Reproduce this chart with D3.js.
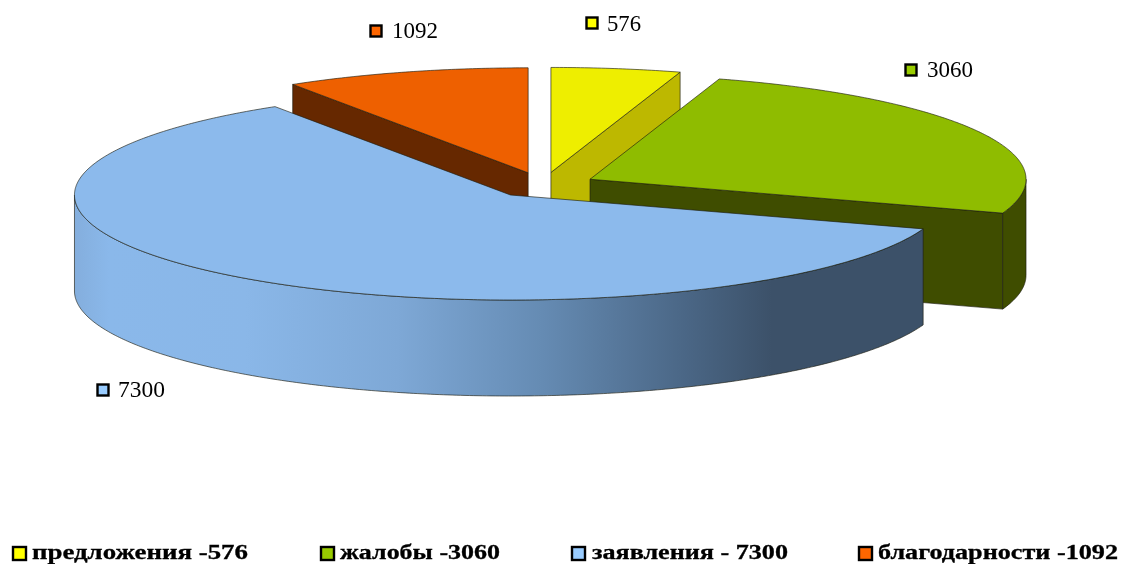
<!DOCTYPE html>
<html>
<head>
<meta charset="utf-8">
<script src="https://cdn.jsdelivr.net/npm/d3@7"></script>
<style>
  html, body { margin: 0; padding: 0; background: #fff; }
  svg { display: block; filter: blur(0.35px); }
</style>
</head>
<body>
<svg id="chart" width="1122" height="564"></svg>
<script>
// chart values
var categories = ['предложения', 'жалобы', 'заявления', 'благодарности'];
var values = [576, 3060, 7300, 1092];
var valueLabels = ['576', '3060', '7300', '1092'];
var legendLabels = ['предложения -576', 'жалобы -3060', 'заявления - 7300', 'благодарности -1092'];

// styles and layout
var topColors = ['#eeee00', '#8fbc00', '#8cbaec', '#ee6000'];
var wallColors = ['#bdb800', '#3f4d00', '#8ab8ea', '#662800'];
var swatchColors = ['#ffff00', '#99cc00', '#99ccff', '#ff6600'];
var labelPos = [[587, 18, 607, 31, 34], [906, 65, 927, 77, 46], [98, 385, 118, 397, 47], [371, 26, 392, 38, 46]];
var legendPos = [[13, 32, 216], [321, 340, 160], [572, 592, 196], [859, 878, 240]];

var cx = 543, cy = 185;      // pie centre before the slices are pulled out
var rx = 436, ry = 105;      // tilted pie is an ellipse
var depth = 96;
var explode = 0.121;

var svg = d3.select('#chart');

var defs = svg.append('defs');
var grad = defs.append('linearGradient')
  .attr('id', 'blueWall')
  .attr('gradientUnits', 'userSpaceOnUse')
  .attr('x1', 75).attr('x2', 925).attr('y1', 0).attr('y2', 0);
[[0, '#84aedd'], [0.04, '#8ab8ea'], [0.2, '#8ab7e8'], [0.38, '#7ea8d6'],
 [0.55, '#658bb3'], [0.72, '#4a6685'], [0.82, '#3c5169'], [1, '#3c5169']].forEach(function (s) {
  grad.append('stop').attr('offset', s[0]).attr('stop-color', s[1]);
});

var pie = d3.pie().sort(null).value(function (d) { return d; });
var slices = pie(values);

// angle runs clockwise from the top, r is in units of the pie radius
function project(slice, angle, r) {
  var mid = (slice.startAngle + slice.endAngle) / 2;
  return [
    cx + rx * (explode * Math.sin(mid) + r * Math.sin(angle)),
    cy - ry * (explode * Math.cos(mid) + r * Math.cos(angle))
  ];
}

function arcPoints(slice, a0, a1) {
  var n = Math.max(2, Math.ceil((a1 - a0) / 0.01));
  return d3.range(n + 1).map(function (i) {
    return project(slice, a0 + (a1 - a0) * i / n, 1);
  });
}

var topLine = d3.line();
var wallArea = d3.area()
  .x(function (d) { return d[0]; })
  .y0(function (d) { return d[1]; })
  .y1(function (d) { return d[1] + depth; });

// slices drawn back to front, the big blue one last
var order = [0, 3, 1, 2];

var pieG = svg.append('g')
  .attr('stroke', '#1c1c10')
  .attr('stroke-width', 0.8)
  .attr('stroke-opacity', 0.8)
  .attr('stroke-linejoin', 'round');

order.forEach(function (idx) {
  var s = slices[idx];
  var tip = project(s, 0, 0);
  var wallFill = idx === 2 ? 'url(#blueWall)' : wallColors[idx];

  // flat cut faces that look towards the viewer
  if (Math.sin(s.endAngle) > 0.001) {
    pieG.append('path')
      .attr('d', wallArea([tip, project(s, s.endAngle, 1)]))
      .attr('fill', wallFill);
  }
  if (Math.sin(s.startAngle) < -0.001) {
    pieG.append('path')
      .attr('d', wallArea([tip, project(s, s.startAngle, 1)]))
      .attr('fill', wallFill);
  }

  // outer rim, only the front half of the ellipse shows
  var a0 = Math.max(s.startAngle, Math.PI / 2);
  var a1 = Math.min(s.endAngle, Math.PI * 1.5);
  if (a1 > a0) {
    pieG.append('path')
      .attr('d', wallArea(arcPoints(s, a0, a1)))
      .attr('fill', wallFill);
  }

  pieG.append('path')
    .attr('d', topLine([tip].concat(arcPoints(s, s.startAngle, s.endAngle))) + 'Z')
    .attr('fill', topColors[idx]);
});

// value labels with small keys
var labels = svg.append('g').selectAll('g')
  .data(categories)
  .enter().append('g');

labels.append('rect')
  .attr('x', function (d, i) { return labelPos[i][0] - 0.5; })
  .attr('y', function (d, i) { return labelPos[i][1] - 0.5; })
  .attr('width', 11)
  .attr('height', 11)
  .attr('fill', function (d, i) { return swatchColors[i]; })
  .attr('stroke', '#000')
  .attr('stroke-width', 2.4);

labels.append('text')
  .attr('x', function (d, i) { return labelPos[i][2]; })
  .attr('y', function (d, i) { return labelPos[i][3]; })
  .attr('font-family', 'Liberation Serif')
  .attr('font-size', 22.5)
  .attr('fill', '#000')
  .attr('textLength', function (d, i) { return labelPos[i][4]; })
  .attr('lengthAdjust', 'spacingAndGlyphs')
  .text(function (d, i) { return valueLabels[i]; });

// legend along the bottom
var legend = svg.append('g').selectAll('g')
  .data(categories)
  .enter().append('g');

legend.append('rect')
  .attr('x', function (d, i) { return legendPos[i][0]; })
  .attr('y', 547)
  .attr('width', 13)
  .attr('height', 13)
  .attr('fill', function (d, i) { return swatchColors[i]; })
  .attr('stroke', '#000')
  .attr('stroke-width', 2.4);

legend.append('text')
  .attr('x', function (d, i) { return legendPos[i][1]; })
  .attr('y', 559)
  .attr('font-family', 'Liberation Serif')
  .attr('font-weight', 'bold')
  .attr('font-size', 20)
  .attr('fill', '#000')
  .attr('stroke', '#000')
  .attr('stroke-width', 0.3)
  .attr('textLength', function (d, i) { return legendPos[i][2]; })
  .attr('lengthAdjust', 'spacingAndGlyphs')
  .text(function (d, i) { return legendLabels[i]; });
</script>
</body>
</html>
